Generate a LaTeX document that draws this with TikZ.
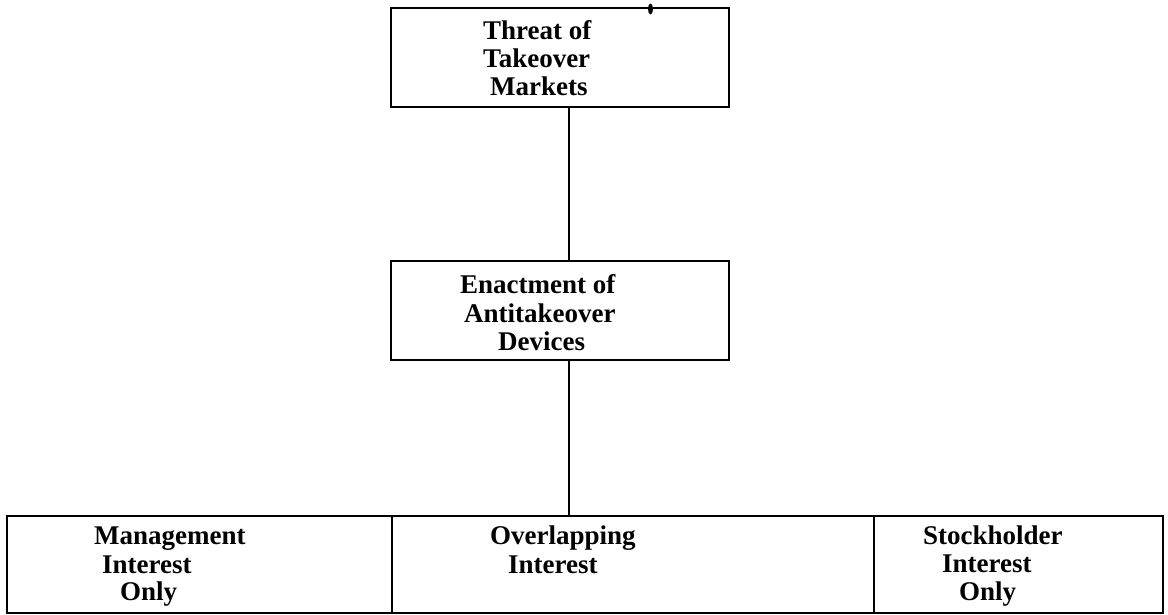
\documentclass[tikz,border=0pt]{standalone}
\usepackage{fontspec}
\setmainfont{Liberation Serif}
\begin{document}
\begin{tikzpicture}[x=1pt,y=-1pt,
  boxnode/.style={draw, line width=1.8pt, inner sep=0pt, minimum width=#1, minimum height=99pt},
  lbl/.style={anchor=base west, inner sep=0pt, font=\fontsize{27}{28}\selectfont\bfseries},
  conn/.style={line width=1.4pt}]
\useasboundingbox (0,0) rectangle (1168,614);
% boxes
\node[boxnode=338pt] (top) at (560,57.5) {};
\node[boxnode=338pt] (mid) at (560,310.5) {};
\node[boxnode=385pt, minimum height=97pt] (mgmt) at (199.5,564.5) {};
\node[boxnode=482pt, minimum height=97pt] (over) at (633,564.5) {};
\node[boxnode=289pt, minimum height=97pt] (stock) at (1018.5,564.5) {};
% small mark on top edge
\fill (650.5,9) ellipse (2.5pt and 5.5pt);
% connectors
\draw[conn] ([xshift=9pt]top.south) -- ([xshift=9pt]mid.north);
\draw[conn] ([xshift=9pt]mid.south) -- ([xshift=-64pt]over.north);
% labels
\node[lbl] (t1) at (483,39) {Threat of};
\node[lbl] (t2) at (483,67) {Takeover};
\node[lbl] (t3) at (490,95) {Markets};
\node[lbl] (m1) at (460,293) {Enactment of};
\node[lbl] (m2) at (464,322) {Antitakeover};
\node[lbl] (m3) at (498,350) {Devices};
\node[lbl] (a1) at (94,544) {Management};
\node[lbl] (a2) at (102,573) {Interest};
\node[lbl] (a3) at (120,600) {Only};
\node[lbl] (b1) at (490,544) {Overlapping};
\node[lbl] (b2) at (508,573) {Interest};
\node[lbl] (c1) at (923,544) {Stockholder};
\node[lbl] (c2) at (942,572) {Interest};
\node[lbl] (c3) at (959,600) {Only};
\end{tikzpicture}
\end{document}
